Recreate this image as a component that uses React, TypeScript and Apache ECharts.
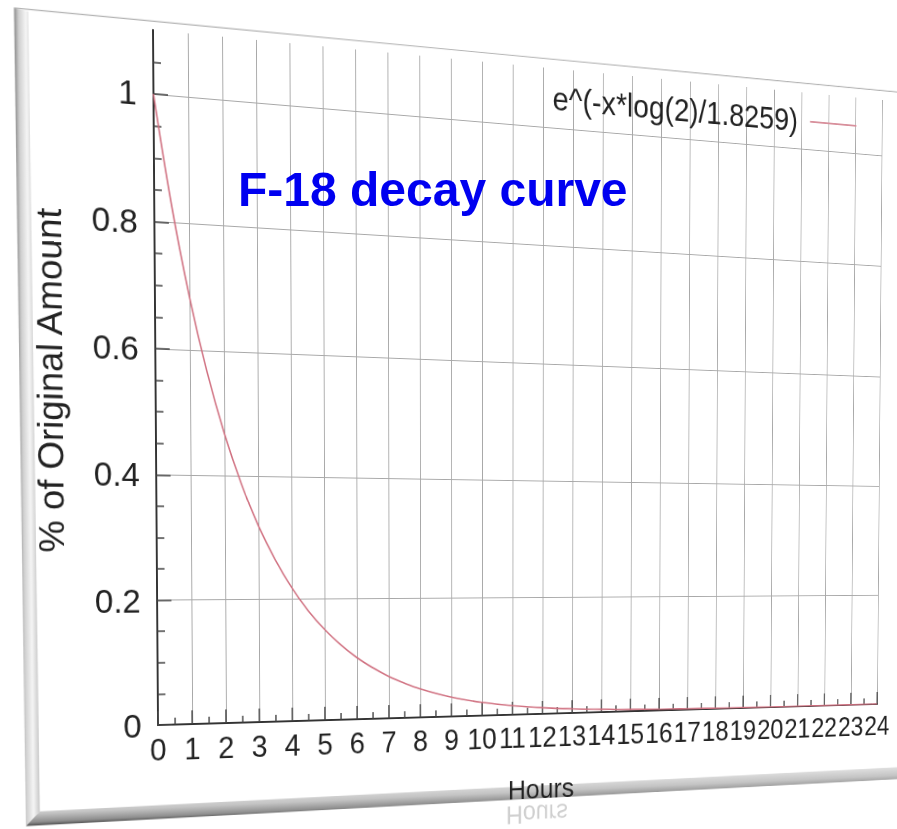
import React, { useEffect, useRef } from "react";
import * as echarts from "echarts";

// ---- data ----
const hours = [0, 0.5, 1, 1.5, 2, 2.5, 3, 3.5, 4, 4.5, 5, 5.5, 6, 6.5, 7, 7.5, 8, 9, 10, 11, 12, 13, 14, 15, 16, 17, 18, 19, 20, 21, 22, 23, 24];
const amount = [1, 0.827, 0.684, 0.566, 0.468, 0.387, 0.32, 0.265, 0.219, 0.181, 0.15, 0.124, 0.1025, 0.085, 0.07, 0.058, 0.048, 0.0328, 0.0225, 0.0154, 0.0105, 0.0072, 0.0049, 0.0034, 0.0023, 0.0016, 0.0011, 0.00074, 0.00051, 0.00035, 0.00024, 0.00016, 0.00011];
const yLabelValues = [0, 0.2, 0.4, 0.6, 0.8, 1];
const seriesName = "e^(-x*log(2)/1.8259)";
const titleText = "F-18 decay curve";
const xName = "Hours";
const yName = "% of Original Amount";

// ---- flat layout and perspective mapping ----
const FLAT_W = 1100;
const FLAT_H = 900;
const G_LEFT = 160;
const G_TOP = 40;
const G_W = 864;
const G_H = 695;
const FONT = '"Liberation Sans", Arial, sans-serif';

const flatCorners = [
  [G_LEFT, G_TOP + G_H],
  [G_LEFT, G_TOP],
  [G_LEFT + G_W, G_TOP + G_H],
  [G_LEFT + G_W, G_TOP],
];
const screenCorners = [
  [158, 725],
  [153, 30],
  [877, 704],
  [882, 100],
];

function homography(src: number[][], dst: number[][]) {
  const A: number[][] = [];
  const b: number[] = [];
  for (let i = 0; i < 4; i++) {
    const [x, y] = src[i];
    const [X, Y] = dst[i];
    A.push([x, y, 1, 0, 0, 0, -X * x, -X * y]);
    b.push(X);
    A.push([0, 0, 0, x, y, 1, -Y * x, -Y * y]);
    b.push(Y);
  }
  const n = 8;
  for (let c = 0; c < n; c++) {
    let p = c;
    for (let r = c + 1; r < n; r++) if (Math.abs(A[r][c]) > Math.abs(A[p][c])) p = r;
    [A[c], A[p]] = [A[p], A[c]];
    [b[c], b[p]] = [b[p], b[c]];
    for (let r = 0; r < n; r++) {
      if (r === c) continue;
      const f = A[r][c] / A[c][c];
      for (let k = c; k < n; k++) A[r][k] -= f * A[c][k];
      b[r] -= f * b[c];
    }
  }
  const h = b.map((v, i) => v / A[i][i]);
  h.push(1);
  return h;
}
function applyH(h: number[], p: number[]) {
  const [x, y] = p;
  const w = h[6] * x + h[7] * y + h[8];
  return [(h[0] * x + h[1] * y + h[2]) / w, (h[3] * x + h[4] * y + h[5]) / w];
}

const H = homography(flatCorners, screenCorners);
const HI = homography(screenCorners, flatCorners);
const cssMatrix = `matrix3d(${H[0]},${H[3]},0,${H[6]},${H[1]},${H[4]},0,${H[7]},0,0,1,0,${H[2]},${H[5]},0,${H[8]})`;
const toFlat = (x: number, y: number) => applyH(HI, [x, y]);

export default function App() {
  const mainRef = useRef<HTMLDivElement>(null);
  const topRef = useRef<HTMLDivElement>(null);

  useEffect(() => {
    if (!mainRef.current || !topRef.current) return;
    const chart = echarts.init(mainRef.current, null, { renderer: "svg" });
    const overlay = echarts.init(topRef.current, null, { renderer: "svg" });

    // frame in flat coordinates
    const TL = toFlat(14, 8);
    const BL = toFlat(26, 826);
    const TRs = toFlat(897, 92);
    const BRs = toFlat(897, 779);
    const TR = [TL[0] + (TRs[0] - TL[0]) * 1.3, TL[1] + (TRs[1] - TL[1]) * 1.3];
    const BR = [BL[0] + (BRs[0] - BL[0]) * 1.3, BL[1] + (BRs[1] - BL[1]) * 1.3];
    const bev = 14;
    const TLi = [TL[0] + bev, TL[1] + 2];
    const BLi = [BL[0] + bev, BL[1] - bev];
    const BRi = [BR[0], BR[1] - bev];

    const legendPos = toFlat(860, 124);
    const yNamePos = toFlat(50, 381);
    const xNamePos = toFlat(541, 789);
    const reflPos = toFlat(537, 814);

    chart.setOption({
      animation: false,
      backgroundColor: "#ffffff",
      textStyle: { fontFamily: FONT },
      grid: { left: G_LEFT, top: G_TOP, width: G_W, height: G_H, containLabel: false },
      legend: {
        data: [{ name: seriesName, icon: "rect" }],
        align: "right",
        right: FLAT_W - legendPos[0],
        top: legendPos[1] - 20,
        itemWidth: 62,
        itemHeight: 2,
        textStyle: { fontSize: 35, color: "#222", fontFamily: FONT, padding: [0, 11, 0, 0] },
      },
      xAxis: {
        type: "value",
        min: 0,
        max: 24,
        interval: 1,
        axisLine: { show: true, onZero: false, lineStyle: { color: "#333", width: 2 } },
        axisTick: { show: true, inside: true, length: 14, lineStyle: { color: "#444", width: 1.5 } },
        minorTick: { show: true, splitNumber: 2, length: 7, lineStyle: { color: "#444", width: 1.5 } },
        splitLine: { show: true, showMinLine: false, showMaxLine: true, lineStyle: { color: "#a8a8a8", width: 1 } },
        axisLabel: { fontSize: 31, color: "#222", margin: 10, fontFamily: FONT, showMinLabel: true, showMaxLabel: true, hideOverlap: false },
      },
      yAxis: {
        type: "value",
        min: 0,
        max: 1.1,
        interval: 0.2,
        axisLine: { show: true, onZero: false, lineStyle: { color: "#333", width: 2 } },
        axisTick: { show: true, inside: true, length: 15, customValues: yLabelValues, lineStyle: { color: "#444", width: 1.5 } },
        minorTick: { show: true, splitNumber: 4, length: 8, lineStyle: { color: "#444", width: 1.5 } },
        splitLine: { show: true, showMinLine: false, showMaxLine: true, lineStyle: { color: "#a8a8a8", width: 1 } },
        axisLabel: { fontSize: 34, color: "#222", margin: 17, showMinLabel: true, showMaxLabel: true, customValues: yLabelValues, fontFamily: FONT },
      },
      series: [
        {
          name: seriesName,
          type: "line",
          symbol: "none",
          smooth: 0.4,
          lineStyle: { color: "#d07080", width: 1.6 },
          itemStyle: { color: "#d8909c" },
          data: hours.map((h, i) => [h, amount[i]]),
        },
      ],
      graphic: [
        {
          type: "polygon",
          shape: { points: [TL, BL, BLi, TLi] },
          style: {
            fill: new echarts.graphic.LinearGradient(0, 0, 1, 0, [
              { offset: 0, color: "#8c8c8c" },
              { offset: 0.25, color: "#cfcfcf" },
              { offset: 0.65, color: "#f5f5f5" },
              { offset: 1, color: "#c8c8c8" },
            ]),
          },
        },
        {
          type: "polygon",
          shape: { points: [BLi, BL, BR, BRi] },
          style: {
            fill: new echarts.graphic.LinearGradient(0, 0, 0, 1, [
              { offset: 0, color: "#e6e6e6" },
              { offset: 0.5, color: "#c4c4c4" },
              { offset: 0.85, color: "#8e8e8e" },
              { offset: 1, color: "#4e4e4e" },
            ]),
          },
        },
        {
          type: "line",
          shape: { x1: TL[0], y1: TL[1], x2: TR[0], y2: TR[1] },
          style: { stroke: "#b4b4b4", lineWidth: 1.2 },
        },
        {
          type: "text",
          x: yNamePos[0],
          y: yNamePos[1],
          rotation: Math.PI / 2,
          style: { text: yName, fill: "#222", font: `36px ${FONT}`, align: "center", verticalAlign: "middle" },
        },
        {
          type: "text",
          x: xNamePos[0],
          y: xNamePos[1],
          style: { text: xName, fill: "#222", font: `30px ${FONT}`, align: "center", verticalAlign: "middle" },
        },
        {
          type: "text",
          x: reflPos[0],
          y: reflPos[1],
          scaleY: -1,
          style: { text: xName, fill: "#cfcfcf", font: `28px ${FONT}`, align: "center", verticalAlign: "middle" },
        },
      ],
    });

    overlay.setOption({
      animation: false,
      graphic: [
        {
          type: "text",
          x: 238,
          y: 189,
          style: { text: titleText, fill: "#0000f0", font: `bold 48px ${FONT}`, align: "left", verticalAlign: "middle" },
        },
      ],
    });

    return () => {
      chart.dispose();
      overlay.dispose();
    };
  }, []);

  return (
    <div style={{ position: "fixed", left: 0, top: 0, width: 897, height: 829, overflow: "hidden", background: "#fff" }}>
      <div
        ref={mainRef}
        style={{ position: "absolute", left: 0, top: 0, width: FLAT_W, height: FLAT_H, transformOrigin: "0 0", transform: cssMatrix }}
      />
      <div ref={topRef} style={{ position: "absolute", left: 0, top: 0, width: 897, height: 829, pointerEvents: "none" }} />
    </div>
  );
}
